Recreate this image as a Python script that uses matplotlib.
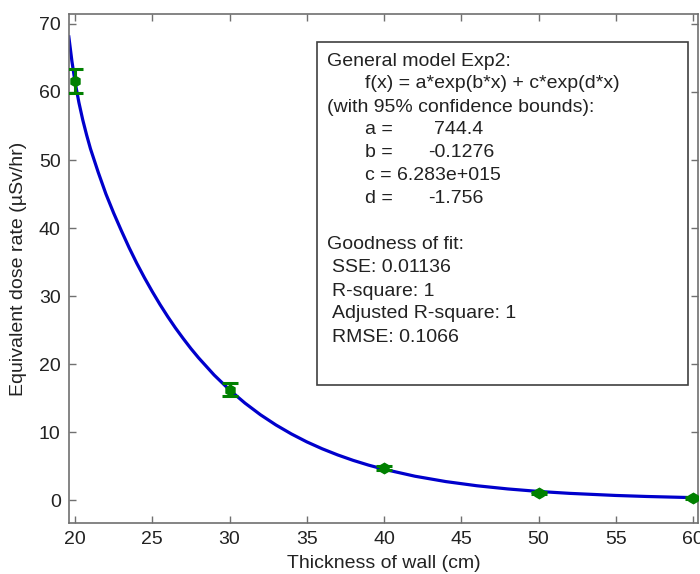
import matplotlib
matplotlib.use('Agg')

import matplotlib.pyplot as plt
from matplotlib.patches import Rectangle

plt.rcParams['font.family'] = ['Liberation Sans', 'DejaVu Sans']

# measured points with error bars
thickness = [20, 30, 40, 50, 60]
dose_rate = [61.6, 16.2, 4.7, 1.1, 0.3]
dose_err = [1.8, 0.95, 0.3, 0.15, 0.1]

# fitted curve
fit_x = [19.6, 19.8, 20, 20.25, 20.5, 20.75, 21, 21.5, 22, 22.5, 23, 23.5, 24,
         24.5, 25, 25.5, 26, 26.5, 27, 27.5, 28, 29, 30, 31, 32, 33, 34, 35,
         36, 37, 38, 39, 40, 42, 44, 46, 48, 50, 52, 55, 57, 60, 60.4]
fit_y = [68.1, 64.5, 61.5, 58.46, 55.9, 53.68, 51.65, 48.2, 45.0, 42.2, 39.6,
         37.11, 34.8, 32.66, 30.65, 28.75, 26.97, 25.3, 23.75, 22.27, 20.9,
         18.39, 16.19, 14.25, 12.54, 11.04, 9.72, 8.55, 7.53, 6.63, 5.83, 5.13,
         4.52, 3.5, 2.71, 2.1, 1.63, 1.26, 0.98, 0.67, 0.52, 0.35, 0.34]

x_ticks = [20, 25, 30, 35, 40, 45, 50, 55, 60]
y_ticks = [0, 10, 20, 30, 40, 50, 60, 70]

fit_lines = [
    ('General model Exp2:', 327, 61),
    ('f(x) = a*exp(b*x) + c*exp(d*x)', 365, 84),
    ('(with 95% confidence bounds):', 327, 107),
    ('a =', 365, 130), ('744.4', 434, 130),
    ('b =', 365, 153), ('-0.1276', 428, 153),
    ('c =', 365, 176), ('6.283e+015', 397, 176),
    ('d =', 365, 199), ('-1.756', 428, 199),
    ('Goodness of fit:', 327, 245),
    ('SSE: 0.01136', 332, 268),
    ('R-square: 1', 332, 291),
    ('Adjusted R-square: 1', 332, 314),
    ('RMSE: 0.1066', 332, 337),
]

W, H = 700, 574
fig = plt.figure(figsize=(W / 100, H / 100), dpi=100)
ax = fig.add_axes([69 / W, 1 - 523 / H, (698 - 69) / W, (523 - 14) / H])

ax.plot(fit_x, fit_y, color='#0000cc', lw=2.3, zorder=2)
ax.errorbar(thickness, dose_rate, yerr=dose_err, fmt='h', color='#008000',
            ms=7.5, elinewidth=2.2, capsize=6, capthick=2.2, zorder=3)

ax.set_xlim(19.61, 60.32)
ax.set_ylim(-3.38, 71.47)
ax.set_xticks(x_ticks)
ax.set_yticks(y_ticks)
ax.tick_params(direction='in', length=5, width=1, color='#707070',
               labelsize=14, labelcolor='#222222', top=True, right=True, pad=6)
for sp in ax.spines.values():
    sp.set_color('#707070')
    sp.set_linewidth(1.2)

ax.set_xlabel('Thickness of wall (cm)', fontsize=14, color='#222222')
ax.set_ylabel('Equivalent dose rate (µSv/hr)', fontsize=14, color='#222222')
ax.xaxis.set_label_coords(0.5, -0.063)
ax.yaxis.set_label_coords(-0.066, 0.5)

# fit results box
fig.patches.append(Rectangle((317 / W, 1 - 385 / H), (688 - 317) / W, (385 - 42) / H,
                             transform=fig.transFigure, fill=True, facecolor='white',
                             edgecolor='#404040', lw=1.2, zorder=5))
for txt, px, py in fit_lines:
    fig.text(px / W, 1 - py / H, txt, fontsize=14, color='#222222',
             ha='left', va='center', zorder=6)

plt.savefig('out.png', dpi=100)
plt.close(fig)
